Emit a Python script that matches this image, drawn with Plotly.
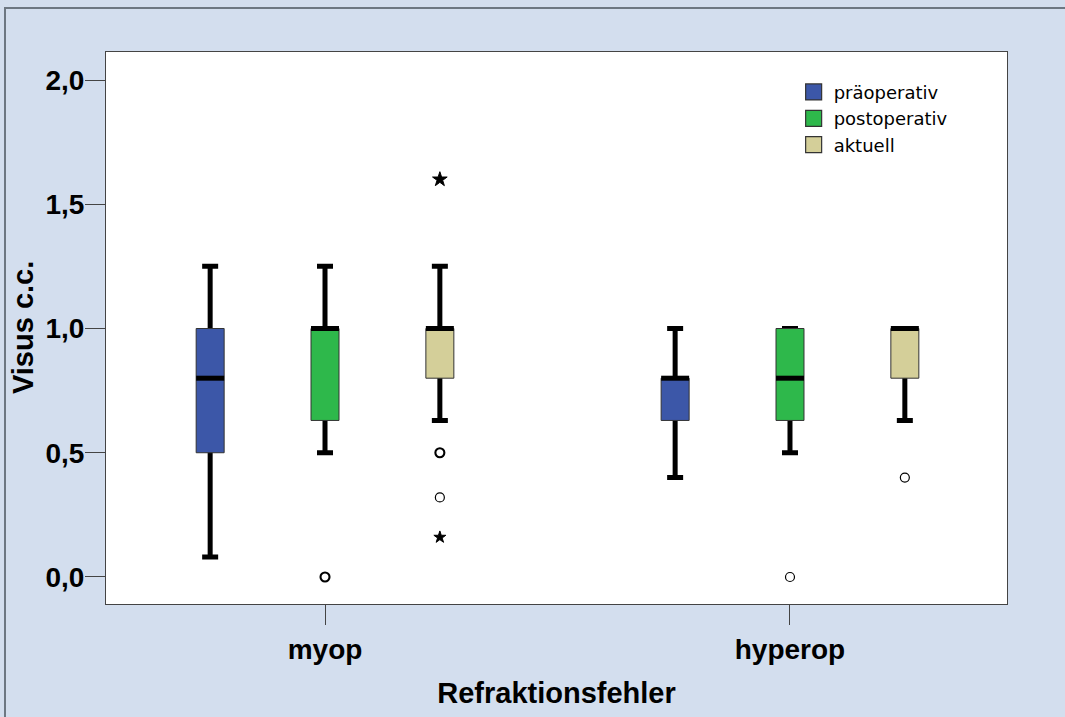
import plotly.graph_objects as go

# ---------------- data ----------------
categories = ["myop", "hyperop"]
series = ["präoperativ", "postoperativ", "aktuell"]
colors = ["#3c57a8", "#2eb84b", "#d4cf99"]

lower_whisker = {"präoperativ": [0.08, 0.40], "postoperativ": [0.50, 0.50], "aktuell": [0.63, 0.63]}
q1_values = {"präoperativ": [0.50, 0.63], "postoperativ": [0.63, 0.63], "aktuell": [0.80, 0.80]}
median_values = {"präoperativ": [0.80, 0.80], "postoperativ": [1.00, 0.80], "aktuell": [1.00, 1.00]}
q3_values = {"präoperativ": [1.00, 0.80], "postoperativ": [1.00, 1.00], "aktuell": [1.00, 1.00]}
upper_whisker = {"präoperativ": [1.25, 1.00], "postoperativ": [1.25, 1.00], "aktuell": [1.25, 1.00]}

# outliers (circles): (series, category, value, count)
outlier_series = ["postoperativ", "postoperativ", "aktuell", "aktuell", "aktuell"]
outlier_category = ["myop", "hyperop", "myop", "myop", "hyperop"]
outlier_value = [0.00, 0.00, 0.50, 0.32, 0.40]
outlier_count = [2, 1, 2, 1, 1]
# extremes (stars)
extreme_series = ["aktuell", "aktuell"]
extreme_category = ["myop", "myop"]
extreme_value = [1.60, 0.16]

y_ticks = [0.0, 0.5, 1.0, 1.5, 2.0]

# ---------------- layout helpers ----------------
cat_pos = {c: i for i, c in enumerate(categories)}
group_offset = {"präoperativ": -0.247, "postoperativ": 0.0, "aktuell": 0.247}
box_half = 0.0301

fig = go.Figure()

# whiskers (error bars with caps)
for s in series:
    xs = [cat_pos[c] + group_offset[s] for c in categories]
    mids = median_values[s]
    fig.add_trace(go.Scatter(
        x=xs, y=mids, mode="markers",
        marker=dict(size=1, color="rgba(0,0,0,0)"),
        error_y=dict(type="data", symmetric=False,
                     array=[u - m for u, m in zip(upper_whisker[s], mids)],
                     arrayminus=[m - l for m, l in zip(mids, lower_whisker[s])],
                     color="black", thickness=5, width=8),
        showlegend=False, hoverinfo="skip"))

# boxes
for s, col in zip(series, colors):
    px, py = [], []
    for i, c in enumerate(categories):
        xc = cat_pos[c] + group_offset[s]
        a, b = q1_values[s][i], q3_values[s][i]
        px += [xc - box_half, xc + box_half, xc + box_half, xc - box_half, xc - box_half, None]
        py += [a, a, b, b, a, None]
    fig.add_trace(go.Scatter(x=px, y=py, mode="lines", fill="toself", fillcolor=col,
                             line=dict(color="#333333", width=1),
                             showlegend=False, hoverinfo="skip"))

# medians
for s in series:
    xs = [cat_pos[c] + group_offset[s] for c in categories]
    fig.add_trace(go.Scatter(x=xs, y=median_values[s], mode="markers",
                             marker=dict(symbol="line-ew", size=20,
                                         line=dict(color="black", width=5)),
                             showlegend=False, hoverinfo="skip"))

# outliers
fig.add_trace(go.Scatter(
    x=[cat_pos[c] + group_offset[s] for s, c in zip(outlier_series, outlier_category)],
    y=outlier_value, mode="markers",
    marker=dict(symbol="circle-open", size=9, color="black",
                line=dict(color="black", width=[1.2 + 0.9 * (n - 1) for n in outlier_count])),
    showlegend=False, hoverinfo="skip"))
fig.add_trace(go.Scatter(
    x=[cat_pos[c] + group_offset[s] for s, c in zip(extreme_series, extreme_category)],
    y=extreme_value, mode="markers",
    marker=dict(symbol="star", size=[11, 9], color="black", opacity=1,
                line=dict(color="black", width=1)),
    showlegend=False, hoverinfo="skip"))

# legend entries
for s, col in zip(series, colors):
    fig.add_trace(go.Scatter(x=[None], y=[None], mode="markers", name=s,
                             marker=dict(symbol="square", size=16, color=col,
                                         line=dict(color="#333333", width=1.2))))

tick_font = dict(family="Liberation Sans", size=28, color="black", weight="bold")
title_font = dict(family="Liberation Sans", size=29, color="black", weight="bold")

fig.update_layout(
    width=1065, height=717,
    margin=dict(l=106, r=58, t=52, b=113),
    paper_bgcolor="#d3deee", plot_bgcolor="white",
    separators=", ",
    showlegend=True,
    legend=dict(x=0.7632, y=0.9607, xanchor="left", yanchor="top",
                bgcolor="rgba(0,0,0,0)", borderwidth=0, itemsizing="trace",
                font=dict(family="DejaVu Sans", size=18, color="black"),
                tracegroupgap=0),
    xaxis=dict(range=[-0.471, 1.4667], tickmode="array", tickvals=[cat_pos[c] for c in categories],
               ticktext=categories, ticks="outside", ticklen=20, tickcolor="#444444",
               showline=True, linecolor="#444444", linewidth=1, mirror=True,
               showgrid=False, zeroline=False, tickfont=tick_font,
               title=dict(text="Refraktionsfehler", font=title_font, standoff=19)),
    yaxis=dict(range=[-0.1087, 2.1127], tickvals=y_ticks, tickformat=".1f",
               ticks="outside", ticklen=20, tickcolor="#444444",
               showline=True, linecolor="#444444", linewidth=1, mirror=True,
               showgrid=False, zeroline=False, tickfont=tick_font,
               ticklabelstandoff=-5),
    annotations=[dict(text="Visus c.c.", textangle=-90, xref="paper", yref="paper",
                      x=-0.0921, y=0.5, xanchor="center", yanchor="middle",
                      showarrow=False, font=title_font)],
    shapes=[
        dict(type="rect", xref="paper", yref="paper", x0=-0.1121, x1=1.3, y0=-0.3, y1=1.0797,
             line=dict(color="#6d7782", width=2), fillcolor="rgba(0,0,0,0)", layer="below"),
    ],
)

fig.write_html("out.html", config={"displayModeBar": False})
